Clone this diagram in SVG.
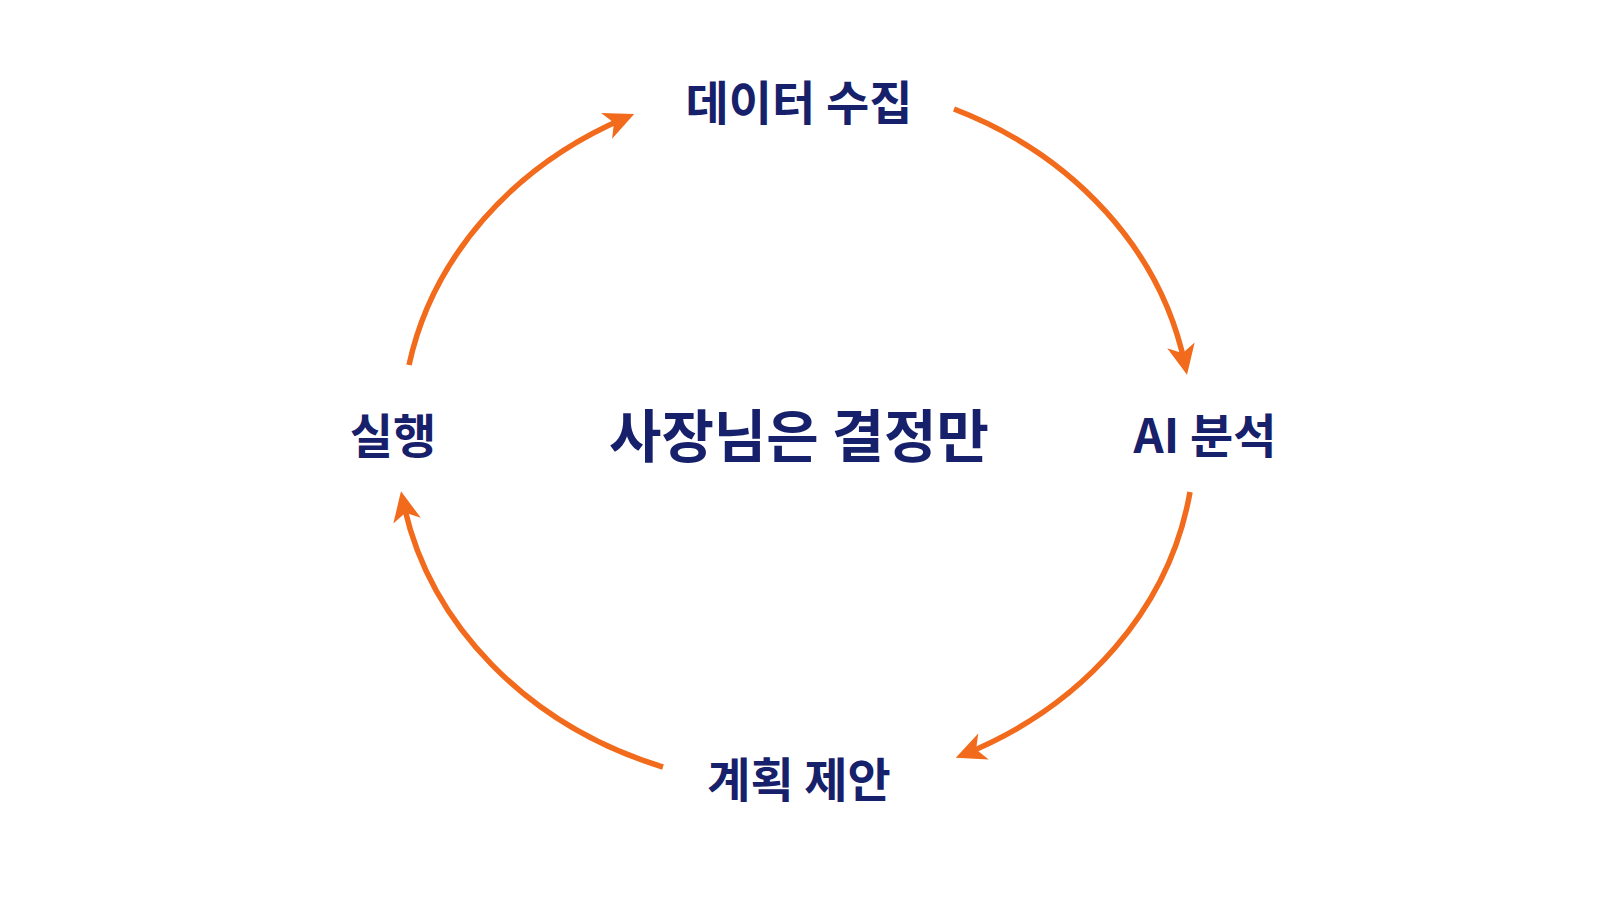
<svg xmlns="http://www.w3.org/2000/svg" width="1600" height="900" viewBox="0 0 1600 900">
<style>
.t{font-family:"Noto Sans CJK KR","Noto Sans",sans-serif;font-weight:700;fill:#17206a;text-anchor:middle;dominant-baseline:central}
.a{fill:none;stroke:#f26a1b;stroke-width:5.5;marker-end:url(#ah)}
</style>
<defs><marker id="ah" viewBox="-2 -16 34 32" refX="20" refY="0" markerWidth="34" markerHeight="32" markerUnits="userSpaceOnUse" orient="auto"><path d="M0,-14 L30,0 L0,14 L8,0 Z" fill="#f26a1b"/></marker></defs>
<rect width="1600" height="900" fill="#fff"/>
<g id="connectors">
<path class="a" d="M954,109 A398 347 0 0 1 1185,365"/>
<path class="a" d="M1190,492 A398 347 0 0 1 965,754"/>
<path class="a" d="M663,767 A398 347 0 0 1 403,501"/>
<path class="a" d="M409,365 A398 347 0 0 1 625,118"/>
</g>
<g id="n1"><text class="t" x="799" y="99" font-size="47">데이터 수집</text></g>
<g id="n2"><text class="t" x="1205" y="432" font-size="47">AI 분석</text></g>
<g id="n3"><text class="t" x="799" y="776" font-size="47">계획 제안</text></g>
<g id="n4"><text class="t" x="393" y="432" font-size="47">실행</text></g>
<g id="center"><text class="t" x="799" y="432" font-size="57">사장님은 결정만</text></g>
</svg>
